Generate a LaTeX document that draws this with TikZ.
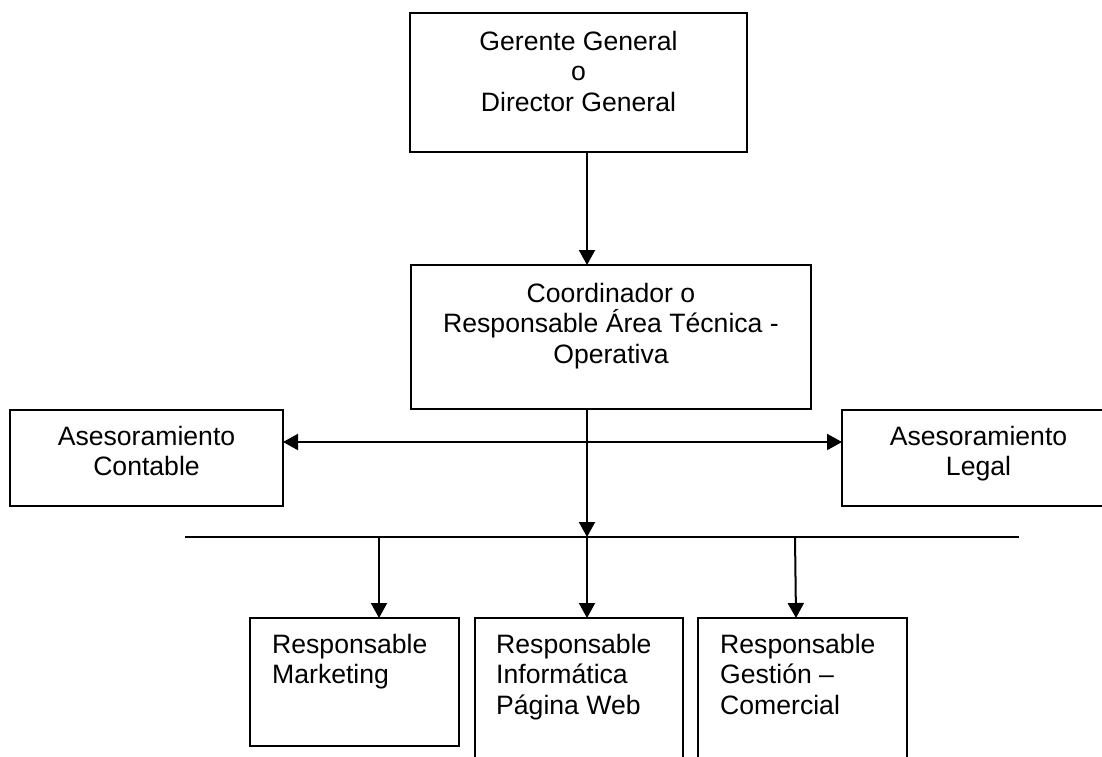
\documentclass[tikz,border=0pt]{standalone}
\usepackage{fontspec}
\setmainfont{Liberation Sans}
\usetikzlibrary{arrows.meta}
\newcommand\tstrut{\rule{0pt}{25pt}}
\tikzset{
  box/.style={draw, line width=2pt, anchor=north west, inner sep=0pt, outer sep=0pt},
  txt/.style={inner sep=0pt, font=\fontsize{26.6}{30.5}\selectfont},
  arr/.style={line width=2pt, -{Triangle[length=15pt,width=16pt]}},
  darr/.style={line width=2pt, {Triangle[length=15pt,width=16pt]}-{Triangle[length=15pt,width=16pt]}},
  bus/.style={line width=1.8pt}
}
\begin{document}
\begin{tikzpicture}[x=1pt,y=-1pt]
\clip (0,0) rectangle (1102,756);
\fill[white] (0,0) rectangle (1102,756);
% boxes
\node[box, minimum width=337pt, minimum height=139pt] (gg) at (410,13) {};
\node[box, minimum width=400pt, minimum height=144pt] (co) at (411,265) {};
\node[box, minimum width=273pt, minimum height=96pt] (ac) at (10,410) {};
\node[box, minimum width=273pt, minimum height=96pt] (al) at (842,410) {};
\node[box, minimum width=209pt, minimum height=128pt] (rm) at (250,618) {};
\node[box, minimum width=208pt, minimum height=150pt] (ri) at (475,618) {};
\node[box, minimum width=209pt, minimum height=150pt] (rg) at (698,618) {};
% texts
\node[txt, align=center, anchor=north] (ggt) at (578.5,25) {\tstrut Gerente General\\o\\Director General};
\node[txt, align=center, anchor=north] (cot) at (611,277) {\tstrut Coordinador o\\Responsable Área Técnica -\\Operativa};
\node[txt, align=center, anchor=north] (act) at (146.5,420) {\tstrut Asesoramiento\\Contable};
\node[txt, align=center, anchor=north] (alt) at (978.5,420) {\tstrut Asesoramiento\\Legal};
\node[txt, align=left, anchor=north west] (rmt) at (272,628) {\tstrut Responsable\\Marketing};
\node[txt, align=left, anchor=north west] (rit) at (496,628) {\tstrut Responsable\\Informática\\Página Web};
\node[txt, align=left, anchor=north west] (rgt) at (720,628) {\tstrut Responsable\\Gestión --\\Comercial};
% coordinates for connectors
\coordinate (ax) at (587,0);
\coordinate (busL) at (185,537);
\coordinate (busR) at (1019,537);
\coordinate (b1) at (379,537);
\coordinate (b2) at (587,537);
\coordinate (b3) at (795,537);
\coordinate (hy) at (0,442);
% connectors
\draw[arr] (ax |- gg.south) -- (ax |- co.north);
\draw[bus] (busL) -- (busR);
\draw[arr] (ax |- co.south) -- (b2);
\draw[darr] (ac.east |- hy) -- (al.west |- hy);
\draw[arr] (b1) -- (b1 |- rm.north);
\draw[arr] (b2) -- (b2 |- ri.north);
\draw[arr] (b3) -- ([xshift=1pt]b3 |- rg.north);
\end{tikzpicture}
\end{document}
